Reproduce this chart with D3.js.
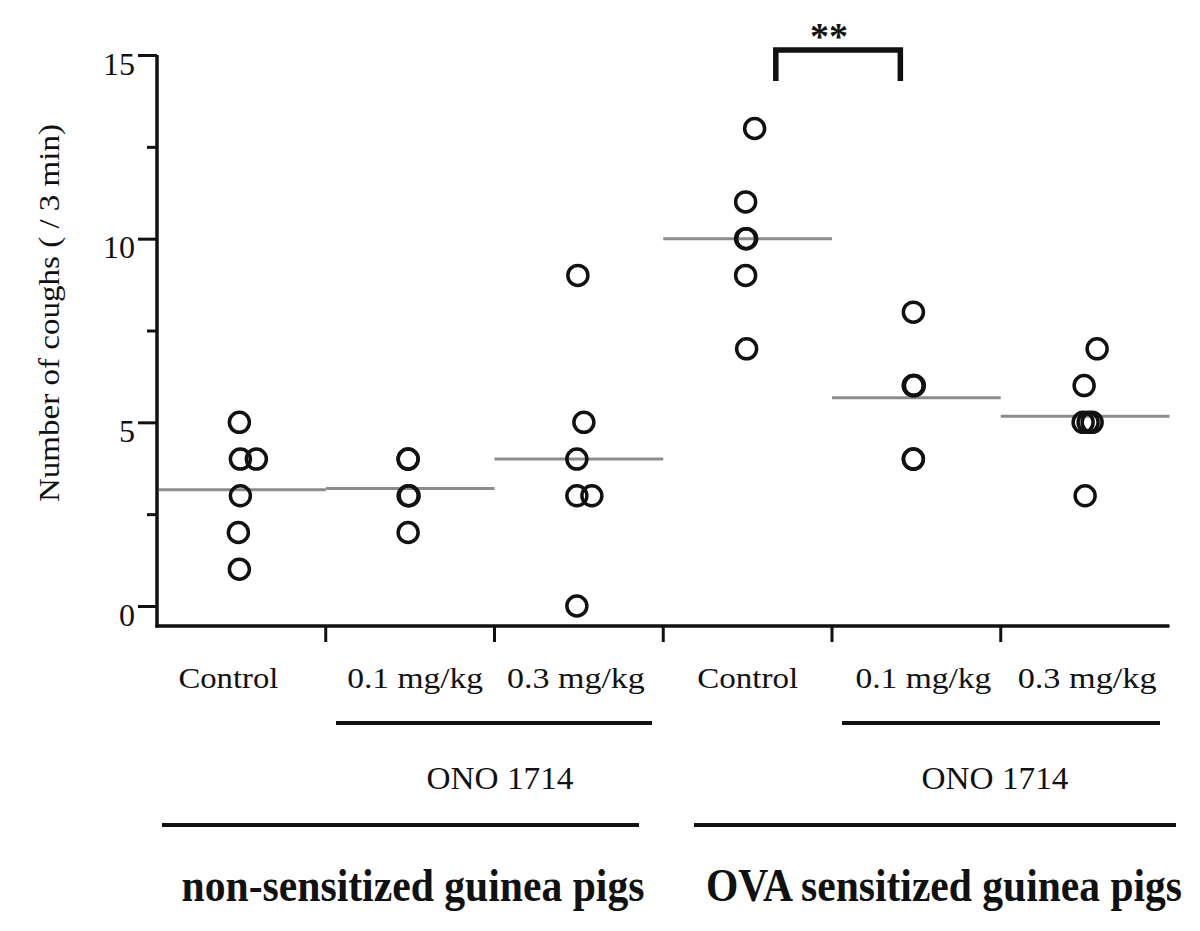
<!DOCTYPE html>
<html>
<head>
<meta charset="utf-8">
<script src="https://cdn.jsdelivr.net/npm/d3@7"></script>
<style>
  html, body { margin: 0; padding: 0; background: #fff; }
  svg { display: block; }
  svg text { font-family: "Liberation Serif", Tinos, "Times New Roman", Times, serif; fill: #111; }
</style>
</head>
<body>
<svg id="chart" width="1200" height="931"></svg>
<script>
// ---------------- data ----------------
const groups = ["ns-control", "ns-0.1", "ns-0.3", "ova-control", "ova-0.1", "ova-0.3"];
const tickLabels = ["Control", "0.1 mg/kg", "0.3 mg/kg", "Control", "0.1 mg/kg", "0.3 mg/kg"];
const values = [
  [1, 2, 3, 4, 4, 5],
  [2, 3, 3, 4, 4],
  [0, 3, 3, 4, 5, 9],
  [7, 9, 10, 10, 11, 13],
  [4, 4, 6, 6, 6, 8],
  [3, 5, 5, 5, 6, 7]
];
const yTicks = [0, 5, 10, 15];
const yMinorTicks = [2.5, 7.5, 12.5];
const drugLabel = "ONO 1714";
const populationLabels = ["non-sensitized guinea pigs", "OVA sensitized guinea pigs"];
const yTitle = "Number of coughs ( / 3 min)";
const sigLabel = "**";

// ---------------- layout (not data) ----------------
const jitter = [
  [-2, -3, -1, -1, 15, -2],
  [-2, -2, -1, -2, -2],
  [-2, -2, 13, -2, 5, -1],
  [-1, -2, -2, -1, -2, 7],
  [-3, -3, -3, -2, -3, -3],
  [0, -2, 3, 7, -1, 12]
];
const labelDx = [-13, 5, -3, 0, 7, 2];
const labelW = [100, 136, 138, 101, 136, 139];
const FONT = '"Liberation Serif", Tinos, "Times New Roman", Times, serif';

const svg = d3.select("#chart");
const X0 = 157, X1 = 1169.5, Y0 = 606, Y15 = 55, AXIS_Y = 626;

const x = d3.scaleBand().domain(groups).range([X0, X1]).padding(0);
const y = d3.scaleLinear().domain([0, 15]).range([Y0, Y15]);
const bw = x.bandwidth();
const cx = g => x(g) + bw / 2;

// y axis major ticks
const yAxis = svg.append("g").attr("transform", `translate(${X0},0)`)
  .call(d3.axisLeft(y).tickValues(yTicks).tickSize(19).tickPadding(5).tickFormat(d3.format("d")));
yAxis.attr("font-family", FONT).attr("font-size", 32);
yAxis.select(".domain").remove();
yAxis.selectAll(".tick line").attr("stroke", "#111").attr("stroke-width", 3);
yAxis.selectAll(".tick text").attr("font-size", 32).attr("dy", "0.6em").attr("x", -22)
  .attr("font-family", FONT).attr("fill", "#111");

// y minor ticks
const yMinor = svg.append("g").attr("transform", `translate(${X0},0)`)
  .call(d3.axisLeft(y).tickValues(yMinorTicks).tickSize(10).tickFormat(""));
yMinor.select(".domain").remove();
yMinor.selectAll(".tick line").attr("stroke", "#111").attr("stroke-width", 3);

// x axis ticks at band boundaries (interior)
const boundaries = groups.slice(1).map(g => x(g));
svg.append("g").selectAll("line").data(boundaries).join("line")
  .attr("x1", d => d).attr("x2", d => d)
  .attr("y1", AXIS_Y).attr("y2", AXIS_Y + 16)
  .attr("stroke", "#111").attr("stroke-width", 3);

// axis lines
svg.append("line").attr("x1", X0).attr("x2", X0).attr("y1", Y15).attr("y2", AXIS_Y + 1.5)
  .attr("stroke", "#111").attr("stroke-width", 3.5);
svg.append("line").attr("x1", X0 - 1.5).attr("x2", X1).attr("y1", AXIS_Y).attr("y2", AXIS_Y)
  .attr("stroke", "#111").attr("stroke-width", 3.5);

// mean lines
svg.append("g").selectAll("line").data(groups).join("line")
  .attr("x1", (g, i) => Math.max(x(g), X0 + 2)).attr("x2", g => x(g) + bw)
  .attr("y1", (g, i) => y(d3.mean(values[i]))).attr("y2", (g, i) => y(d3.mean(values[i])))
  .attr("stroke", "#8c8c8c").attr("stroke-width", 3);

// points
const pts = [];
groups.forEach((g, i) => values[i].forEach((v, j) => pts.push({ g, v, dx: jitter[i][j] })));
svg.append("g").selectAll("circle").data(pts).join("circle")
  .attr("cx", d => cx(d.g) + d.dx).attr("cy", d => y(d.v))
  .attr("r", 10).attr("fill", "none").attr("stroke", "#111").attr("stroke-width", 3.5);

// category labels
svg.append("g").selectAll("text").data(tickLabels).join("text")
  .attr("x", (d, i) => cx(groups[i]) + labelDx[i]).attr("y", 688)
  .attr("text-anchor", "middle").attr("font-size", 30).attr("font-family", FONT)
  .attr("textLength", (d, i) => labelW[i]).attr("lengthAdjust", "spacingAndGlyphs")
  .text(d => d);

// drug underlines and label
const drugSpans = [[336, 652, 500], [842, 1160, 995]];
drugSpans.forEach(s => {
  svg.append("line").attr("x1", s[0]).attr("x2", s[1]).attr("y1", 723).attr("y2", 723)
    .attr("stroke", "#111").attr("stroke-width", 4);
  svg.append("text").attr("x", s[2]).attr("y", 789).attr("text-anchor", "middle")
    .attr("font-size", 32).attr("font-family", FONT)
    .attr("textLength", 147).attr("lengthAdjust", "spacingAndGlyphs")
    .text(drugLabel);
});

// population lines and labels (horizontally scaled to fit measured widths)
const popSpans = [[162, 639, 413, 463], [694, 1176, 944, 476]];
popSpans.forEach((s, i) => {
  svg.append("line").attr("x1", s[0]).attr("x2", s[1]).attr("y1", 825).attr("y2", 825)
    .attr("stroke", "#111").attr("stroke-width", 4);
  const t = svg.append("text").attr("x", 0).attr("y", 0).attr("text-anchor", "middle")
    .attr("font-size", 46).attr("font-weight", "bold").attr("font-family", FONT)
    .text(populationLabels[i]);
  const w0 = t.node().getComputedTextLength() || s[3];
  const sx = s[3] / w0;
  t.attr("transform", `translate(${s[2]},901) scale(${sx},1)`);
});

// significance bracket between OVA control and OVA 0.1
const bx1 = x(groups[3]) + bw * 0.667, bx2 = x(groups[4]) + bw * 0.405;
const bTop = y(15) - 5, bBot = y(15) + 26;
svg.append("path")
  .attr("d", `M${bx1},${bBot} V${bTop} H${bx2} V${bBot}`)
  .attr("fill", "none").attr("stroke", "#111").attr("stroke-width", 5.5)
  .attr("stroke-linejoin", "miter");
svg.append("text").attr("x", (bx1 + bx2) / 2 - 9).attr("y", 49).attr("text-anchor", "middle")
  .attr("font-size", 38).attr("font-weight", "bold").attr("font-family", FONT).text(sigLabel);

// y title
svg.append("text").attr("transform", `translate(59,313) rotate(-90)`)
  .attr("text-anchor", "middle").attr("font-size", 30).attr("font-family", FONT)
  .attr("textLength", 378).attr("lengthAdjust", "spacingAndGlyphs")
  .text(yTitle);
</script>
</body>
</html>
